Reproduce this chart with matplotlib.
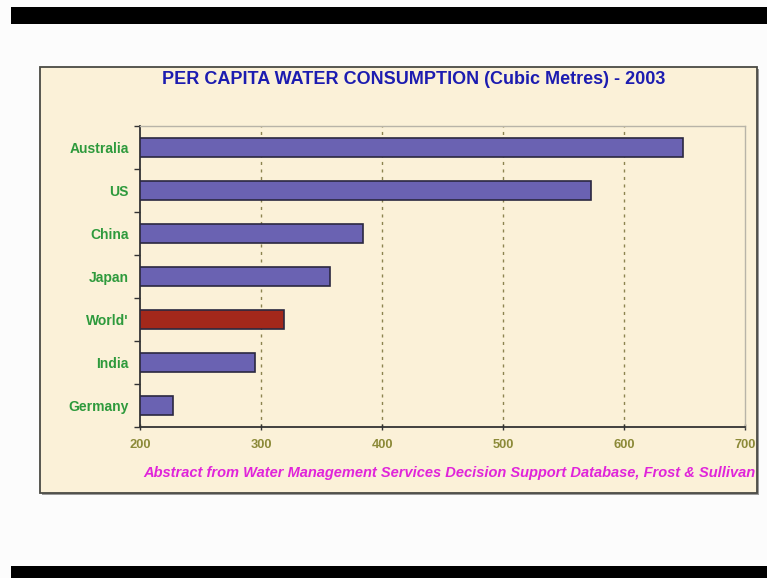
import matplotlib
matplotlib.use("Agg")
import matplotlib.pyplot as plt
from matplotlib.patches import Rectangle
from matplotlib.ticker import FixedLocator, NullFormatter

categories = ["Australia", "US", "China", "Japan", "World'", "India", "Germany"]
values = [649, 573, 384, 357, 319, 295, 227]
bar_colors = ["#6A62B2", "#6A62B2", "#6A62B2", "#6A62B2", "#A3281B", "#6A62B2", "#6A62B2"]
x_ticks = [200, 300, 400, 500, 600, 700]
title = "PER CAPITA WATER CONSUMPTION (Cubic Metres) - 2003"
source = "Abstract from Water Management Services Decision Support Database, Frost & Sullivan"

W, H = 767, 578
fig = plt.figure(figsize=(W / 100, H / 100), dpi=100)
fig.patch.set_facecolor("#FCFCFC")

def fx(px):
    return px / W

def fy(py):
    return 1 - py / H

# black letterbox bars
fig.patches.append(Rectangle((fx(11), fy(24)), 1, (24 - 7) / H, transform=fig.transFigure,
                             facecolor="black", edgecolor="none", zorder=-10))
fig.patches.append(Rectangle((fx(11), 0), 1, (578 - 566) / H, transform=fig.transFigure,
                             facecolor="black", edgecolor="none", zorder=-10))
# chart frame shadow and frame
fig.patches.append(Rectangle((fx(42), fy(495)), (757 - 40) / W, (493 - 67) / H, transform=fig.transFigure,
                             facecolor="#9A9A9A", edgecolor="none", zorder=-10))
fig.patches.append(Rectangle((fx(40), fy(493)), (757 - 40) / W, (493 - 67) / H, transform=fig.transFigure,
                             facecolor="#FBF1D8", edgecolor="#4A4A44", linewidth=1.3, zorder=-9))

ax = fig.add_axes([fx(140), fy(427), (745 - 140) / W, (427 - 126) / H])
ax.set_zorder(5)
ax.set_facecolor("none")

n = len(categories)
ypos = list(range(n))
ax.barh(ypos, [v - 200 for v in values], left=200, height=0.46, color=bar_colors,
        edgecolor="#2B2840", linewidth=1.2, zorder=3)

ax.set_xlim(200, 700)
ax.set_ylim(n - 0.5, -0.5)

ax.set_xticks(x_ticks)
ax.set_xticklabels([str(t) for t in x_ticks], fontsize=9.3, fontweight="bold",
                   color="#8C8A38", family="Liberation Sans")
ax.tick_params(axis="x", direction="inout", length=5, width=1, color="#333333", pad=6)

ax.set_yticks(ypos)
ax.set_yticklabels(categories, fontsize=10, fontweight="bold", color="#2E9A3C",
                   family="Liberation Sans")
ax.tick_params(axis="y", which="major", length=0, pad=8)
ax.yaxis.set_minor_locator(FixedLocator([i - 0.5 for i in range(n + 1)]))
ax.yaxis.set_minor_formatter(NullFormatter())
ax.tick_params(axis="y", which="minor", direction="out", length=4, width=1, color="#333333")

for gx in x_ticks[1:-1]:
    ax.axvline(gx, color="#8C8450", linestyle=(0, (2.2, 3.2)), linewidth=1, zorder=1)

ax.spines["left"].set_color("#333333")
ax.spines["bottom"].set_color("#333333")
ax.spines["left"].set_linewidth(1.3)
ax.spines["bottom"].set_linewidth(1.3)
ax.spines["top"].set_color("#B8B4A8")
ax.spines["right"].set_color("#B8B4A8")
ax.spines["top"].set_linewidth(1)
ax.spines["right"].set_linewidth(1)

fig.text(fx(414), fy(79), title, ha="center", va="center", fontsize=13, fontweight="bold",
         color="#1C1CB0", family="Liberation Sans")
fig.text(fx(755), fy(473), source, ha="right", va="center", fontsize=10.5, fontweight="bold",
         style="italic", color="#E024DA", family="Liberation Sans")

fig.savefig("out.png", dpi=100, facecolor=fig.get_facecolor())
